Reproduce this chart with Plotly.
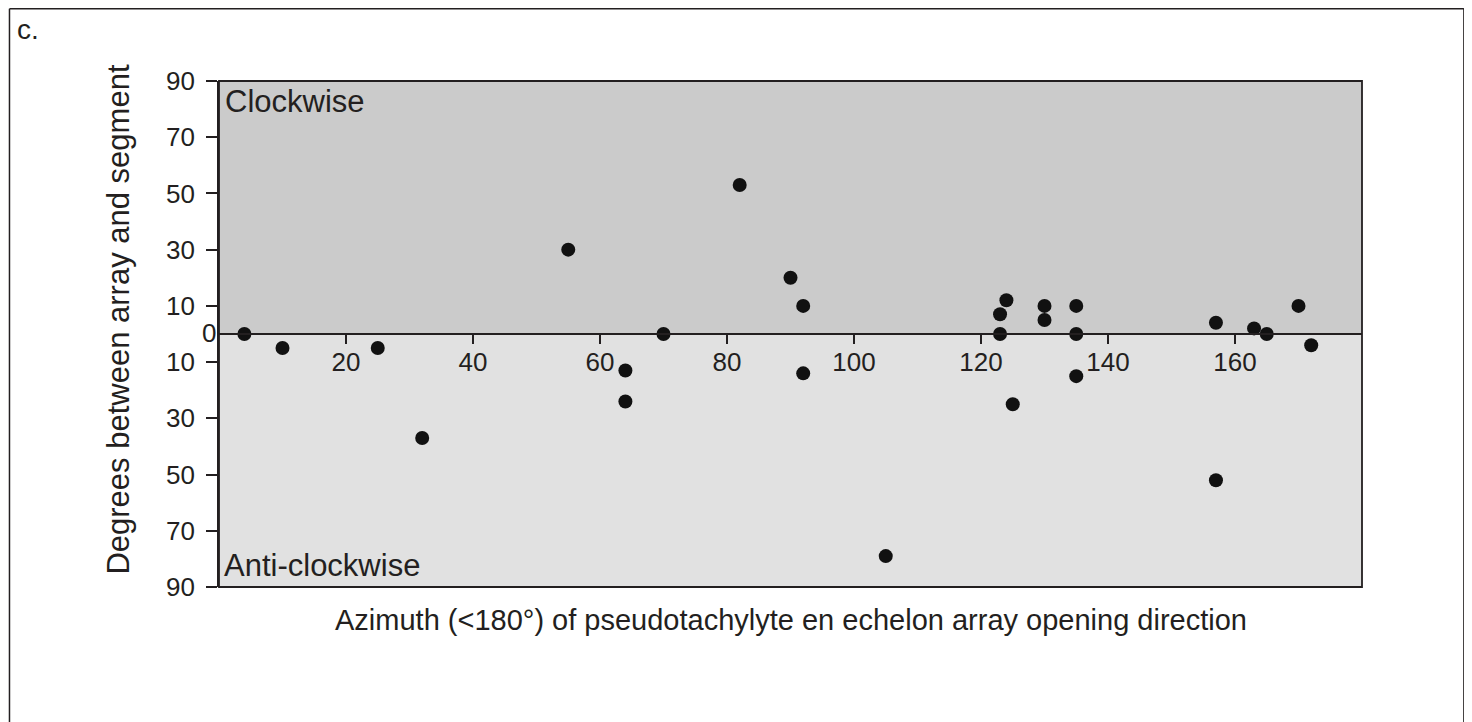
import plotly.graph_objects as go

# Data
azimuth = [4, 10, 25, 32, 55, 64, 64, 70, 82, 90, 92, 92, 105,
           123, 123, 124, 125, 130, 130, 135, 135, 135,
           157, 157, 163, 165, 170, 172]
rotation = [0, -5, -5, -37, 30, -13, -24, 0, 53, 20, 10, -14, -79,
            7, 0, 12, -25, 10, 5, 10, 0, -15,
            4, -52, 2, 0, 10, -4]

x_ticks = [20, 40, 60, 80, 100, 120, 140, 160]
y_tickvals = [90, 70, 50, 30, 10, -10, -30, -50, -70, -90]
y_ticktext = ["90", "70", "50", "30", "10", "10", "30", "50", "70", "90"]

OFF = 8  # page body margin
W, H = 1472 - OFF, 722 - OFF
# target screen coordinates of the plot area
SL, SR, ST, SB = 218.5, 1362.5, 81, 587
L, R, T, B = SL - OFF, SR - OFF, ST - OFF, SB - OFF
PW, PH = R - L, B - T

def px(xs):
    return (xs - OFF - L) / PW

def py(ys):
    return (B - (ys - OFF)) / PH

font = "Liberation Sans, Arial, sans-serif"
ink = "#231f20"

fig = go.Figure()
fig.add_trace(go.Scatter(
    x=azimuth, y=rotation, mode="markers",
    marker=dict(size=14, color="#111111", line=dict(width=0)),
    showlegend=False, hoverinfo="x+y",
))

shapes = [
    dict(type="rect", xref="paper", yref="paper", x0=0, x1=1, y0=0.5, y1=1,
         fillcolor="#cbcbcb", line=dict(width=0), layer="below"),
    dict(type="rect", xref="paper", yref="paper", x0=0, x1=1, y0=0, y1=0.5,
         fillcolor="#e1e1e1", line=dict(width=0), layer="below"),
    dict(type="rect", xref="paper", yref="paper", x0=0, x1=1, y0=0, y1=1,
         fillcolor="rgba(0,0,0,0)", line=dict(width=1.8, color=ink), layer="above"),
    # outer frame (left, top, right edges)
    dict(type="line", xref="paper", yref="paper", x0=px(8.8), x1=px(8.8),
         y0=py(740), y1=py(8.8), line=dict(width=1.5, color=ink)),
    dict(type="line", xref="paper", yref="paper", x0=px(8.8), x1=px(1464.5),
         y0=py(8.8), y1=py(8.8), line=dict(width=1.5, color=ink)),
    dict(type="line", xref="paper", yref="paper", x0=px(1464.5), x1=px(1464.5),
         y0=py(740), y1=py(8.8), line=dict(width=1.5, color=ink)),
]

annotations = [
    dict(text="c.", xref="paper", yref="paper", x=px(14), y=py(30),
         xanchor="left", yanchor="middle", showarrow=False,
         font=dict(family=font, size=28, color=ink)),
    dict(text="Clockwise", xref="paper", yref="paper", x=px(223), y=py(101),
         xanchor="left", yanchor="middle", showarrow=False,
         font=dict(family=font, size=31, color=ink)),
    dict(text="Anti-clockwise", xref="paper", yref="paper", x=px(222), y=py(565),
         xanchor="left", yanchor="middle", showarrow=False,
         font=dict(family=font, size=31, color=ink)),
    dict(text="0", xref="paper", yref="paper", x=px(217), y=py(333),
         xanchor="right", yanchor="middle", showarrow=False,
         font=dict(family=font, size=26, color=ink)),
    dict(text="Azimuth (<180°) of pseudotachylyte en echelon array opening direction",
         xref="paper", yref="paper", x=0.5, y=py(620),
         xanchor="center", yanchor="middle", showarrow=False,
         font=dict(family=font, size=29, color=ink)),
    dict(text="Degrees between array and segment", textangle=-90,
         xref="paper", yref="paper", x=px(117), y=py(320),
         xanchor="center", yanchor="middle", showarrow=False,
         font=dict(family=font, size=31, color=ink)),
]

fig.update_layout(
    width=W, height=H,
    margin=dict(l=L, r=W - R, t=T, b=H - B, pad=0),
    paper_bgcolor="white", plot_bgcolor="white",
    shapes=shapes, annotations=annotations,
    xaxis=dict(range=[0, 180], anchor="free", position=0.5,
               tickvals=x_ticks, ticks="outside", ticklen=9, tickwidth=1.5,
               tickcolor=ink, showline=True, linecolor=ink, linewidth=1.8,
               showgrid=False, zeroline=False, ticklabelstandoff=-4,
               tickfont=dict(family=font, size=26, color=ink)),
    yaxis=dict(range=[-90, 90], tickvals=y_tickvals, ticktext=y_ticktext,
               ticks="outside", ticklen=11, tickwidth=1.5, tickcolor=ink,
               showline=True, linecolor=ink, linewidth=1.8,
               showgrid=False, zeroline=False, ticklabelstandoff=6,
               tickfont=dict(family=font, size=26, color=ink)),
)

fig.write_html("out.html")
